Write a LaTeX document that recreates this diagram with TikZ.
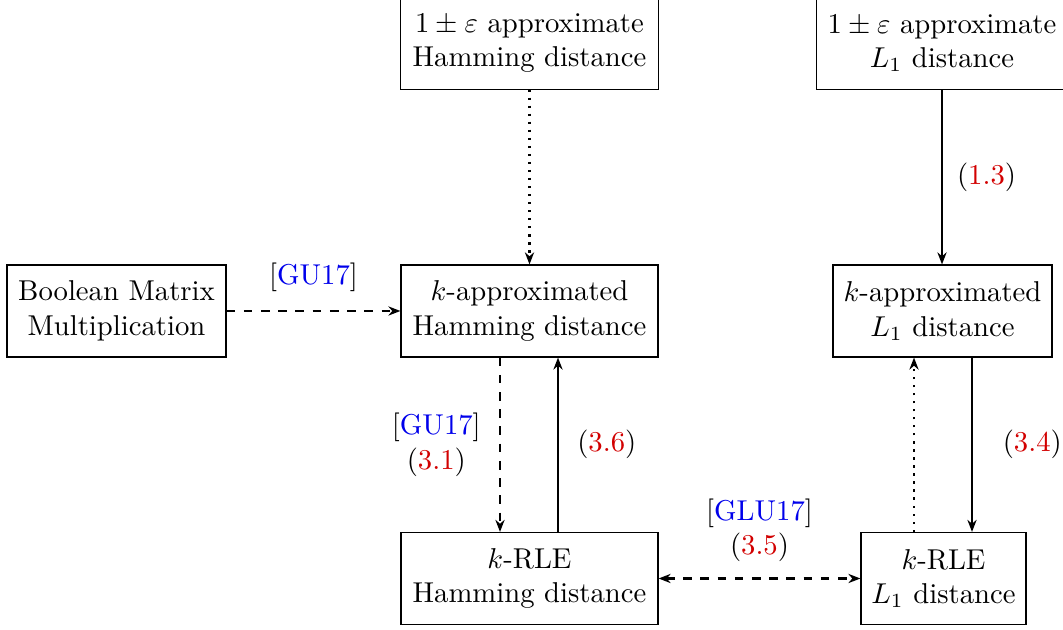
\documentclass[tikz,border=0pt]{standalone}
\usetikzlibrary{arrows.meta}
\newdimen\pxu \pxu=0.3484pt
\definecolor{refred}{RGB}{210,0,0}
\definecolor{citeblue}{RGB}{0,0,235}
\newcommand{\cit}[1]{[\textcolor{citeblue}{#1}]}
\newcommand{\rf}[1]{(\textcolor{refred}{#1})}
\begin{document}
\begin{tikzpicture}[x=\pxu,y=-\pxu,
  box/.style={draw, align=center, inner sep=0pt, minimum height=92*\pxu},
  topbox/.style={align=center, inner sep=0pt, minimum height=92*\pxu},
  conn/.style={thick, -{Stealth[length=4.2pt,width=3.2pt]}},
  lbl/.style={align=center}]
\useasboundingbox (0,0) rectangle (1063,630);
\node[topbox, minimum width=257*\pxu] (t1) at (529.5,43) {$1\pm\varepsilon$ approximate\\Hamming distance};
\node[topbox, minimum width=250*\pxu] (t2) at (942,43) {$1\pm\varepsilon$ approximate\\$L_1$ distance};
\draw (t1.south west) rectangle ([shift={(0,-12)}]t1.north east);
\draw (t2.south west) rectangle ([shift={(0,-12)}]t2.north east);
\node[box, minimum width=219*\pxu] (bm) at (116.5,311) {Boolean Matrix\\Multiplication};
\node[box, minimum width=257*\pxu] (kh) at (529.5,311) {$k$-approximated\\Hamming distance};
\node[box, minimum width=219*\pxu] (kl) at (942.5,311) {$k$-approximated\\$L_1$ distance};
\node[box, minimum width=257*\pxu] (rh) at (529.5,578.5) {$k$-RLE\\Hamming distance};
\node[box, minimum width=165*\pxu] (rl) at (943.5,578.5) {$k$-RLE\\$L_1$ distance};

\draw[conn, dotted] (t1.south) -- (kh.north);
\draw[conn] (t2.south) -- (t2.south |- kl.north) node[midway, right, xshift=1.5pt] {\rf{1.3}};
\draw[conn, dashed] (bm.east) -- (kh.west) node[midway, above, yshift=3pt] {\cit{GU17}};
\draw[conn, dashed] ([shift={(-29.5,0)}]kh.south) -- ([shift={(-29.5,0)}]rh.north)
  node[midway, left, lbl, xshift=-3pt] {\cit{GU17}\\\rf{3.1}};
\draw[conn] ([shift={(28.5,0)}]rh.north) -- ([shift={(28.5,0)}]kh.south)
  node[midway, right, xshift=3pt] {\rf{3.6}};
\draw[conn] ([shift={(29.5,0)}]kl.south) -- ([shift={(29.5,0)}]kl.south |- rl.north)
  node[midway, right, xshift=7pt] {\rf{3.4}};
\draw[conn, dotted] ([shift={(-29.5,0)}]rl.north) -- ([shift={(-29.5,0)}]rl.north |- kl.south);
\draw[thick, dashed, {Stealth[length=4.2pt,width=3.2pt]}-{Stealth[length=4.2pt,width=3.2pt]}] (rh.east) -- (rl.west)
  node[midway, above, lbl, yshift=2pt] {\cit{GLU17}\\\rf{3.5}};
\end{tikzpicture}
\end{document}
